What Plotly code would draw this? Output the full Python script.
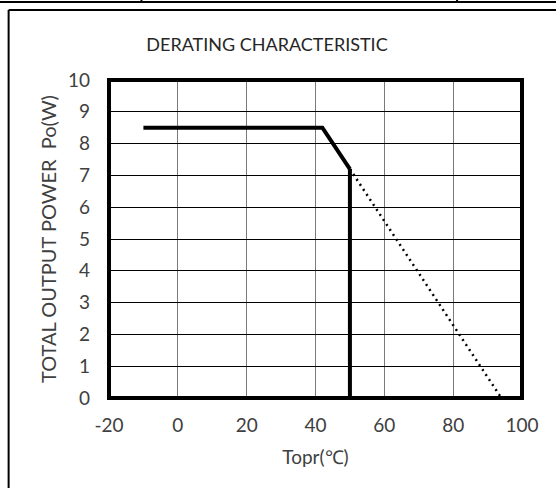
import plotly.graph_objects as go

# Data
x_rated = [-10, 42, 50]
y_rated = [8.5, 8.5, 7.2]
x_cut = [50, 50]
y_cut = [7.2, 0]
x_ext = [50, 94]
y_ext = [7.2, 0]
x_ticks = [-20, 0, 20, 40, 60, 80, 100]
y_ticks = [0, 1, 2, 3, 4, 5, 6, 7, 8, 9, 10]

W, H = 556, 488
L, R, T, B = 108.5, 522, 80, 398
FONT = "Lato"
TXT = "#404040"

def px(x):
    return (x - L) / (R - L)

def py(y):
    return (B - y) / (B - T)

fig = go.Figure()
fig.add_trace(go.Scatter(x=x_ext, y=y_ext, mode="lines",
                         line=dict(color="black", width=2.5, dash="2px,4px"),
                         hoverinfo="skip", showlegend=False))
fig.add_trace(go.Scatter(x=x_rated, y=y_rated, mode="lines",
                         line=dict(color="black", width=4),
                         showlegend=False))
fig.add_trace(go.Scatter(x=x_cut, y=y_cut, mode="lines",
                         line=dict(color="black", width=4),
                         showlegend=False))

shapes = [
    # plot frame
    dict(type="rect", xref="paper", yref="paper", x0=0, x1=1, y0=0, y1=1,
         line=dict(color="black", width=4), layer="above"),
    # outer frame
    dict(type="line", xref="paper", yref="paper", x0=px(8), x1=px(560), y0=py(10), y1=py(10),
         line=dict(color="black", width=2)),
    dict(type="line", xref="paper", yref="paper", x0=px(8), x1=px(8), y0=py(10), y1=py(492),
         line=dict(color="black", width=2)),
    # table line above
    dict(type="line", xref="paper", yref="paper", x0=px(-4), x1=px(560), y0=py(2), y1=py(2),
         line=dict(color="black", width=2)),
    dict(type="line", xref="paper", yref="paper", x0=px(141), x1=px(141), y0=py(-4), y1=py(2),
         line=dict(color="black", width=2)),
    dict(type="line", xref="paper", yref="paper", x0=px(457), x1=px(457), y0=py(-4), y1=py(2),
         line=dict(color="black", width=2)),
]

fig.update_layout(
    width=W, height=H,
    margin=dict(l=L, r=W - R, t=T, b=H - B, autoexpand=False),
    paper_bgcolor="white", plot_bgcolor="white",
    font=dict(family=FONT, color=TXT, size=19),
    title=dict(text="DERATING CHARACTERISTIC", x=267 / W, xanchor="center",
               y=1 - 45 / H, yanchor="middle",
               font=dict(family=FONT, size=18, color="#262626")),
    shapes=shapes,
    showlegend=False,
)
fig.update_xaxes(range=[-20, 100], tickvals=x_ticks, ticktext=[str(v) for v in x_ticks],
                 showgrid=True, gridcolor="#7a7a7a", gridwidth=1.3, zeroline=False,
                 showline=False, ticks="", ticklabelstandoff=14,
                 title=dict(text="Topr(℃)", standoff=15, font=dict(size=19)))
fig.update_yaxes(range=[0, 10], tickvals=y_ticks, ticktext=[str(v) for v in y_ticks],
                 showgrid=True, gridcolor="black", gridwidth=1, zeroline=False,
                 showline=False, ticks="", ticklabelstandoff=18,
                 title=dict(text="TOTAL OUTPUT POWER  Po(W)", standoff=5, font=dict(size=20)))

fig.write_html("out.html", config={"displayModeBar": False},
               post_script="document.body.style.margin='0';")
